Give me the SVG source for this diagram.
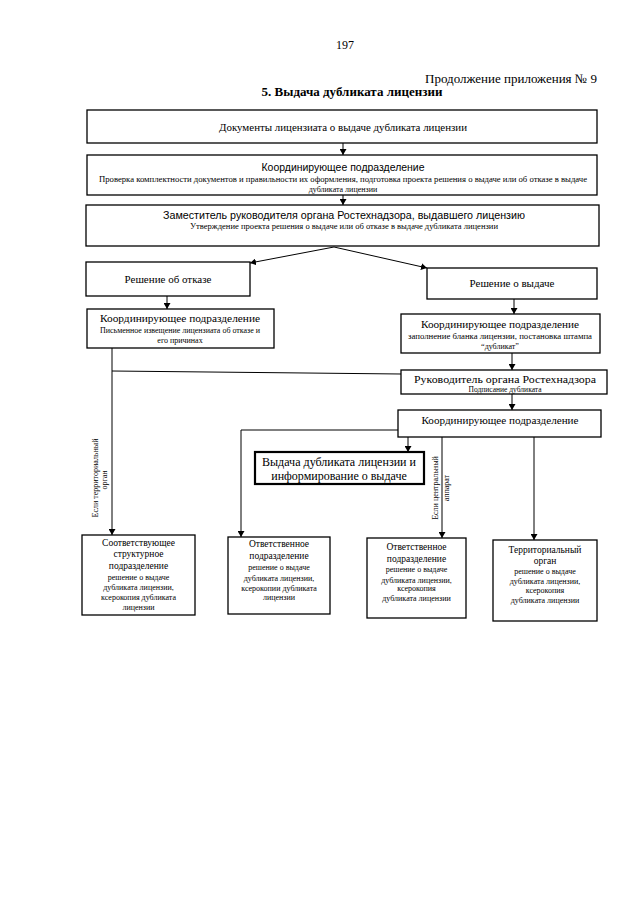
<svg xmlns="http://www.w3.org/2000/svg" width="640" height="905" viewBox="0 0 640 905">
<style>
.bg{fill:#ffffff}
.box{fill:#ffffff;stroke:#000000;stroke-width:1.3}
.thick{fill:#ffffff;stroke:#000000;stroke-width:2.2}
.ln{fill:none;stroke:#000000;stroke-width:1}
.s{font-family:"Liberation Serif","Times New Roman",serif;fill:#000000;text-anchor:middle}
.a{font-family:"Liberation Sans",Arial,sans-serif;fill:#000000;text-anchor:middle}
.t{font-size:11px}
.m{font-size:9.5px}
.sm{font-size:8px}
</style>
<defs>
<marker id="ah" markerWidth="6" markerHeight="7" refX="6" refY="3.5" orient="auto" markerUnits="userSpaceOnUse">
<path d="M0,0 L6,3.5 L0,7 z" fill="#000000"/>
</marker>
</defs>
<rect class="bg" x="0" y="0" width="640" height="905"/>

<g id="header">
<text class="s" x="345" y="49" font-size="12">197</text>
<text class="s" x="597" y="83" font-size="13" text-anchor="end" style="text-anchor:end">Продолжение приложения № 9</text>
<text class="s" x="352" y="96" font-size="13" font-weight="bold">5. Выдача дубликата лицензии</text>
</g>

<g id="connectors">
<line class="ln" x1="343" y1="143" x2="343" y2="155" marker-end="url(#ah)"/>
<line class="ln" x1="343" y1="195" x2="343" y2="205" marker-end="url(#ah)"/>
<line class="ln" x1="334" y1="247" x2="250" y2="263" marker-end="url(#ah)"/>
<line class="ln" x1="334" y1="247" x2="427" y2="268" marker-end="url(#ah)"/>
<line class="ln" x1="167" y1="296" x2="167" y2="309" marker-end="url(#ah)"/>
<line class="ln" x1="514" y1="299" x2="514" y2="314" marker-end="url(#ah)"/>
<line class="ln" x1="512" y1="353" x2="512" y2="370" marker-end="url(#ah)"/>
<line class="ln" x1="512" y1="394" x2="512" y2="410" marker-end="url(#ah)"/>
<polyline class="ln" points="401,374 112,371"/>
<line class="ln" x1="112" y1="348" x2="112" y2="535" marker-end="url(#ah)"/>
<polyline class="ln" points="398,430 241,430 241,537" marker-end="url(#ah)"/>
<line class="ln" x1="408" y1="437" x2="408" y2="452" marker-end="url(#ah)"/>
<line class="ln" x1="442" y1="437" x2="442" y2="538" marker-end="url(#ah)"/>
<line class="ln" x1="534" y1="437" x2="534" y2="540" marker-end="url(#ah)"/>
<text class="s sm" transform="translate(98,478) rotate(-90)">Если территориальный</text>
<text class="s sm" transform="translate(107,480) rotate(-90)">орган</text>
<text class="s sm" transform="translate(438,488) rotate(-90)">Если центральный</text>
<text class="s sm" transform="translate(449,488) rotate(-90)">аппарат</text>
</g>

<g id="n_docs">
<rect class="box" x="87" y="110" width="510" height="33"/>
<text class="s t" x="343" y="131" textLength="248" lengthAdjust="spacingAndGlyphs">Документы лицензиата о выдаче дубликата лицензии</text>
</g>

<g id="n_coord1">
<rect class="box" x="87" y="155" width="510" height="40"/>
<text class="a" x="343" y="171" font-size="11.5" textLength="163" lengthAdjust="spacingAndGlyphs">Координирующее подразделение</text>
<text class="s sm" x="343" y="182" textLength="488" lengthAdjust="spacingAndGlyphs">Проверка комплектности документов и правильности их оформления, подготовка проекта решения о выдаче или об отказе в выдаче</text>
<text class="s sm" x="343" y="192">дубликата лицензии</text>
</g>

<g id="n_deputy">
<rect class="box" x="86" y="205" width="513" height="41"/>
<text class="a" x="344" y="219" font-size="11.5" textLength="362" lengthAdjust="spacingAndGlyphs">Заместитель руководителя органа Ростехнадзора, выдавшего лицензию</text>
<text class="s sm" x="344" y="229" textLength="308" lengthAdjust="spacingAndGlyphs">Утверждение проекта решения о выдаче или об отказе в выдаче дубликата лицензии</text>
</g>

<g id="n_refuse">
<rect class="box" x="86" y="262" width="164" height="34"/>
<text class="s t" x="168" y="283">Решение об отказе</text>
</g>

<g id="n_issue">
<rect class="box" x="427" y="268" width="170" height="31"/>
<text class="s t" x="512" y="287">Решение о выдаче</text>
</g>

<g id="n_coord_left">
<rect class="box" x="87" y="309" width="187" height="39"/>
<text class="s" x="180" y="322" font-size="10.5" textLength="160" lengthAdjust="spacingAndGlyphs">Координирующее подразделение</text>
<text class="s sm" x="180" y="333" textLength="160" lengthAdjust="spacingAndGlyphs">Письменное извещение лицензиата об отказе и</text>
<text class="s sm" x="180" y="343">его причинах</text>
</g>

<g id="n_coord_right">
<rect class="box" x="401" y="314" width="199" height="39"/>
<text class="s" x="500" y="328" font-size="10.5" textLength="158" lengthAdjust="spacingAndGlyphs">Координирующее подразделение</text>
<text class="s sm" x="500" y="339" textLength="184" lengthAdjust="spacingAndGlyphs">заполнение бланка лицензии, постановка штампа</text>
<text class="s sm" x="500" y="349">“дубликат”</text>
</g>

<g id="n_head">
<rect class="box" x="401" y="370" width="206" height="24"/>
<text class="s" x="505" y="383" font-size="10.5" textLength="182" lengthAdjust="spacingAndGlyphs">Руководитель органа Ростехнадзора</text>
<text class="s" x="505" y="392" font-size="7.5">Подписание дубликата</text>
</g>

<g id="n_coord3">
<rect class="box" x="398" y="410" width="203" height="27"/>
<text class="s" x="500" y="424" font-size="10.5" textLength="157" lengthAdjust="spacingAndGlyphs">Координирующее подразделение</text>
</g>

<g id="n_issue_inform">
<rect class="thick" x="255" y="452" width="169" height="32"/>
<text class="s" x="339" y="466" font-size="12" textLength="154" lengthAdjust="spacingAndGlyphs">Выдача дубликата лицензии и</text>
<text class="s" x="339" y="480" font-size="12">информирование о выдаче</text>
</g>

<g id="n_struct">
<rect class="box" x="82" y="535" width="113" height="80"/>
<text class="s m" x="138.5" y="546">Соответствующее</text>
<text class="s m" x="138.5" y="557">структурное</text>
<text class="s m" x="138.5" y="569">подразделение</text>
<text class="s sm" x="138.5" y="580">решение о выдаче</text>
<text class="s sm" x="138.5" y="590">дубликата лицензии,</text>
<text class="s sm" x="138.5" y="600">ксерокопия дубликата</text>
<text class="s sm" x="138.5" y="610">лицензии</text>
</g>

<g id="n_resp1">
<rect class="box" x="228" y="537" width="102" height="77"/>
<text class="s m" x="279" y="547">Ответственное</text>
<text class="s m" x="279" y="559">подразделение</text>
<text class="s sm" x="279" y="570">решение о выдаче</text>
<text class="s sm" x="279" y="581">дубликата лицензии,</text>
<text class="s sm" x="279" y="591">ксерокопии дубликата</text>
<text class="s sm" x="279" y="600">лицензии</text>
</g>

<g id="n_resp2">
<rect class="box" x="367" y="538" width="99" height="80"/>
<text class="s m" x="416.5" y="550">Ответственное</text>
<text class="s m" x="416.5" y="562">подразделение</text>
<text class="s sm" x="416.5" y="572">решение о выдаче</text>
<text class="s sm" x="416.5" y="583">дубликата лицензии,</text>
<text class="s sm" x="416.5" y="591">ксерокопия</text>
<text class="s sm" x="416.5" y="601">дубликата лицензии</text>
</g>

<g id="n_territorial">
<rect class="box" x="493" y="540" width="104" height="81"/>
<text class="s m" x="545" y="553">Территориальный</text>
<text class="s m" x="545" y="564">орган</text>
<text class="s sm" x="545" y="574">решение о выдаче</text>
<text class="s sm" x="545" y="584">дубликата лицензии,</text>
<text class="s sm" x="545" y="593">ксерокопия</text>
<text class="s sm" x="545" y="603">дубликата лицензии</text>
</g>
</svg>
